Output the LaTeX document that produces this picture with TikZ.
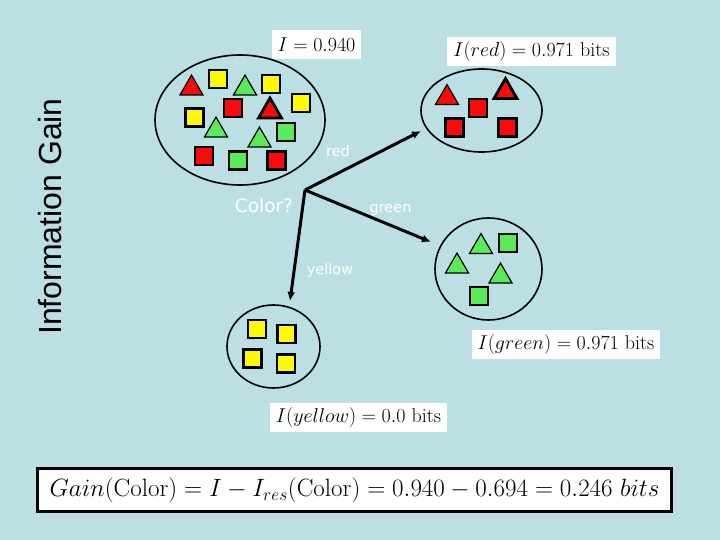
\RequirePackage{fix-cm}
\documentclass[tikz,border=0pt]{standalone}
\usepackage{amsmath}
\usepackage{fontspec}
\newfontfamily\axisfont{Liberation Sans}
\newfontfamily\branchfont{DejaVu Sans}
\usetikzlibrary{shapes.geometric,arrows.meta}
\definecolor{slidebg}{RGB}{187,223,227}
\definecolor{itemred}{RGB}{250,10,10}
\definecolor{itemyellow}{RGB}{255,250,0}
\definecolor{itemgreen}{RGB}{90,235,90}
\begin{document}
\begin{tikzpicture}[x=1pt,y=-1pt,
  sq/.style={draw, rectangle, line width=2.4pt, minimum size=18pt, inner sep=0pt},
  tri/.style={draw, regular polygon, regular polygon sides=3, line width=1.2pt, minimum size=26.5pt, inner sep=0pt, yshift=-3.3pt},
  thicktri/.style={tri, line width=2.8pt},
  set/.style={draw, ellipse, line width=1.6pt, inner sep=0pt},
  info/.style={fill=white, inner xsep=6pt, inner ysep=4pt, minimum height=29pt, font=\fontsize{20}{23}\selectfont},
  branch/.style={line width=3pt, -{Latex[length=9pt,width=8pt]}},
  branchlabel/.style={text=white, font=\branchfont\fontsize{14.5}{16}\selectfont}]
\fill[slidebg] (0,0) rectangle (720,540);
\useasboundingbox (0,0) rectangle (720,540);

\node[rotate=90, font=\axisfont\fontsize{32}{36}\selectfont] (title) at (50,216.5) {Information Gain};

% the whole set
\node[set, minimum width=170pt, minimum height=130pt] (mixset) at (240,120) {};
\node[tri, fill=itemred] (a1) at (191.5,85) {};
\node[sq, fill=itemyellow] (a2) at (218,79) {};
\node[tri, fill=itemgreen] (a3) at (245,85) {};
\node[sq, fill=itemyellow] (a4) at (271,84) {};
\node[sq, fill=itemred] (a5) at (233,108) {};
\node[thicktri, fill=itemred] (a6) at (270,108) {};
\node[sq, fill=itemyellow] (a7) at (301,103) {};
\node[sq, fill=itemyellow] (a8) at (194.5,117.5) {};
\node[tri, fill=itemgreen] (a9) at (216,127) {};
\node[tri, fill=itemgreen] (a10) at (259.5,137) {};
\node[sq, fill=itemgreen] (a11) at (286,132) {};
\node[sq, fill=itemred] (a12) at (204,156) {};
\node[sq, fill=itemgreen] (a13) at (238,160.5) {};
\node[sq, fill=itemred] (a14) at (276.5,160.5) {};
\node[info] (infoAll) at (316.5,45) {$I = 0.940$};

% red branch
\node[set, minimum width=121pt, minimum height=83pt] (redset) at (481.5,110.5) {};
\node[tri, fill=itemred] (r1) at (447,94.5) {};
\node[sq, fill=itemred] (r2) at (478,108) {};
\node[thicktri, fill=itemred] (r3) at (505.5,88.5) {};
\node[sq, fill=itemred] (r4) at (454.5,127.5) {};
\node[sq, fill=itemred] (r5) at (507.5,127.5) {};
\node[info] (infoRed) at (531.5,51.5) {$I(red) = 0.971\ \mathrm{bits}$};

% green branch
\node[set, minimum width=107pt, minimum height=102pt] (greenset) at (488.5,269) {};
\node[tri, fill=itemgreen] (g1) at (481,243.5) {};
\node[sq, fill=itemgreen] (g2) at (508,243) {};
\node[tri, fill=itemgreen] (g3) at (457,263) {};
\node[tri, fill=itemgreen] (g4) at (500.5,273) {};
\node[sq, fill=itemgreen] (g5) at (479,296) {};
\node[info] (infoGreen) at (566,344.5) {$I(green) = 0.971\ \mathrm{bits}$};

% yellow branch
\node[set, minimum width=93pt, minimum height=83pt] (yellowset) at (273.5,346.5) {};
\node[sq, fill=itemyellow] (y1) at (257,329) {};
\node[sq, fill=itemyellow] (y2) at (286.5,334) {};
\node[sq, fill=itemyellow] (y3) at (252.5,358.5) {};
\node[sq, fill=itemyellow] (y4) at (286,363.5) {};
\node[info] (infoYellow) at (358.5,417) {$I(yellow) = 0.0\ \mathrm{bits}$};

% the split
\coordinate (split) at (305,190);
\coordinate (toRed) at (421,131);
\coordinate (toGreen) at (431,242);
\coordinate (toYellow) at (290,301);
\draw[branch] (split) -- (toRed);
\draw[branch] (split) -- (toGreen);
\draw[branch] (split) -- (toYellow);
\node[branchlabel, font=\branchfont\fontsize{18.5}{20}\selectfont] (question) at (264,206) {Color?};
\node[branchlabel] (redlbl) at (338,151) {red};
\node[branchlabel] (greenlbl) at (390.5,210) {green};
\node[branchlabel] (yellowlbl) at (330,270) {yellow};

\node[draw, line width=3pt, fill=white, minimum width=634pt, minimum height=43pt, inner sep=0pt, font=\fontsize{25}{28}\selectfont] (gain) at (354.5,490)
  {$Gain(\mathrm{Color}) = I - I_{res}(\mathrm{Color}) = 0.940 - 0.694 = 0.246\ bits$};
\end{tikzpicture}
\end{document}
